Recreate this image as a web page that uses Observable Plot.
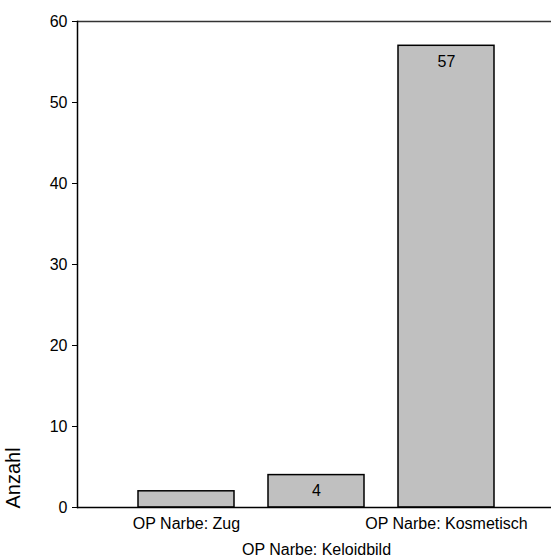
<!DOCTYPE html>
<html>
<head>
<meta charset="utf-8">
<script src="https://cdn.jsdelivr.net/npm/d3@7"></script>
<script src="https://cdn.jsdelivr.net/npm/@observablehq/plot@0.6"></script>
<style>
  body { margin: 0; background: #fff; }
</style>
</head>
<body>
<div id="chart"></div>
<script>
const categories = ["OP Narbe: Zug", "OP Narbe: Keloidbild", "OP Narbe: Kosmetisch"];
const counts = [2, 4, 57];
const yTicks = [0, 10, 20, 30, 40, 50, 60];
const yLabel = "Anzahl";

const data = categories.map((c, i) => ({category: c, count: counts[i]}));

const chart = Plot.plot({
  width: 551,
  height: 559,
  marginTop: 21,
  marginBottom: 52,
  marginLeft: 77,
  marginRight: 0,
  style: {fontFamily: "'Liberation Sans', Arial, sans-serif", fontSize: "16px", color: "#000", background: "#fff"},
  x: {domain: categories, paddingInner: 0.26, paddingOuter: 0.45, align: 0.52, label: null},
  y: {domain: [0, 60], label: null},
  marks: [
    Plot.barY(data, {x: "category", y: "count", fill: "#c0c0c0", stroke: "#000", strokeWidth: 1.5}),
    Plot.text(data.filter(d => d.count >= 4), {x: "category", y: "count", text: d => String(d.count), dy: 16, fontSize: 16, fill: "#000"}),
    Plot.ruleY([60], {stroke: "#333", strokeWidth: 1.5}),
    Plot.ruleY([0], {stroke: "#000", strokeWidth: 1.5}),
    Plot.frame({anchor: "left", stroke: "#000", strokeWidth: 1.5}),
    Plot.axisY({ticks: yTicks, tickSize: 5, tickPadding: 5, label: null, fontSize: 16}),
    Plot.axisX({ticks: [categories[0], categories[2]], tickSize: 0, tickPadding: 10.5, label: null, fontSize: 16}),
    Plot.axisX({ticks: [categories[1]], tickSize: 0, tickPadding: 36, label: null, fontSize: 16}),
    Plot.text([yLabel], {frameAnchor: "bottom-left", rotate: -90, textAnchor: "start", dx: -58, dy: 1, fontSize: 20, fill: "#000"})
  ]
});
document.getElementById("chart").appendChild(chart);
</script>
</body>
</html>
